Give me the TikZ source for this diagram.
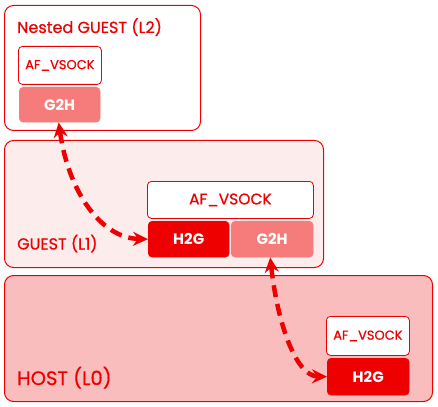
\documentclass[tikz,border=0pt]{standalone}
\usepackage{fontspec}
\setmainfont{Poppins}
\newfontfamily\medfont{Poppins}[FakeBold=0.6]
\usetikzlibrary{arrows.meta}
\definecolor{rhred}{HTML}{EE0000}
\definecolor{rhlight}{HTML}{F67C7C}
\definecolor{rhpink}{HTML}{FDECEC}
\definecolor{rhrose}{HTML}{F9BDBE}
\tikzset{
  level/.style={draw=rhred, line width=1pt, rounded corners=9pt, anchor=north west, inner sep=0pt},
  sock/.style={draw=rhred, line width=0.8pt, fill=white, rounded corners=4pt, anchor=north west, text=rhred},
  hg/.style={draw=rhred, fill=rhred, rounded corners=4pt, anchor=north west, text=white, font=\bfseries\fontsize{15}{18}\selectfont},
  gh/.style={draw=rhlight, fill=rhlight, rounded corners=4pt, anchor=north west, text=white, font=\bfseries\fontsize{15}{18}\selectfont},
  title/.style={anchor=base west, text=rhred, inner sep=0pt},
  link/.style={rhred, line width=4.5pt, dash pattern=on 12pt off 7pt, {Stealth[length=15pt,width=14pt,inset=5pt]}-{Stealth[length=15pt,width=14pt,inset=5pt]}}
}
\begin{document}
\begin{tikzpicture}[x=1pt,y=-1pt]
    \useasboundingbox (0,0) rectangle (438,406);

    % levels
    \node[level, fill=rhrose, minimum width=428, minimum height=126] (L0) at (4,275) {};
    \node[level, fill=rhpink, minimum width=319, minimum height=127] (L1) at (4,140) {};
    \node[level, fill=white, minimum width=196, minimum height=125] (L2) at (4,5) {};

    \node[title, font=\medfont\fontsize{16}{18}\selectfont] (t2) at (17,33) {Nested GUEST (L2)};
    \node[title, font=\medfont\fontsize{16}{18}\selectfont] (t1) at (17,249.5) {GUEST (L1)};
    \node[title, font=\medfont\fontsize{19.5}{22}\selectfont] (t0) at (17,385) {HOST (L0)};

    % sockets
    \node[sock, font=\medfont\fontsize{13}{15}\selectfont, minimum width=83, minimum height=38] (s2) at (18,46) {AF\_VSOCK};
    \node[gh, minimum width=81, minimum height=35] (g2) at (19,87) {G2H};

    \node[sock, font=\medfont\fontsize{15.5}{17}\selectfont, minimum width=166, minimum height=37] (s1) at (147,181) {AF\_VSOCK};
    \node[hg, minimum width=81, minimum height=36] (h1) at (148,221) {H2G};
    \node[gh, minimum width=82, minimum height=36] (g1) at (231,221) {G2H};

    \node[sock, font=\medfont\fontsize{13}{15}\selectfont, minimum width=83, minimum height=39] (s0) at (326,316) {AF\_VSOCK};
    \node[hg, minimum width=82, minimum height=37] (h0) at (327,358) {H2G};

    % links
    \draw[link] ([xshift=-1pt]g2.south) .. controls (68,190) and (100,238) .. (h1.west);
    \draw[link] ([xshift=-2pt]g1.south) .. controls (277,320) and (295,376) .. (h0.west);

\end{tikzpicture}
\end{document}
